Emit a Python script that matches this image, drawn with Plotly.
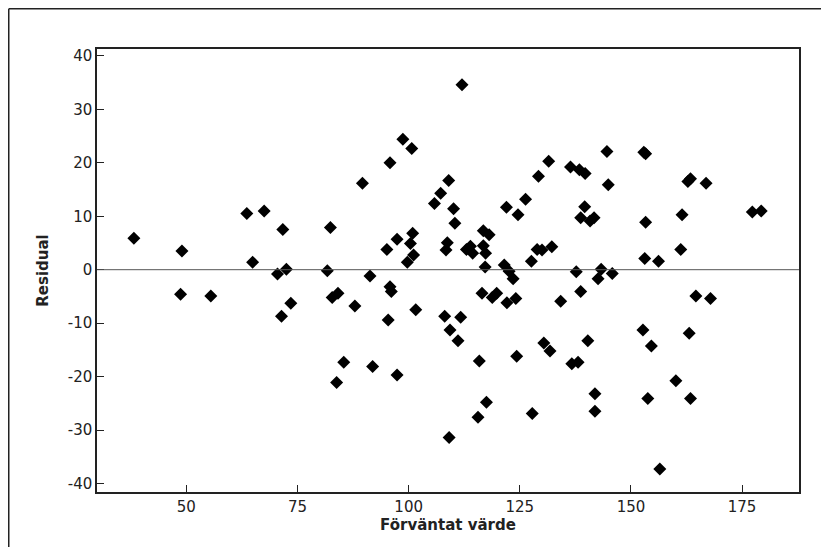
import plotly.graph_objects as go

# Fitted values (Förväntat värde) and residuals
fitted = [
    38.2, 49.0, 48.7, 55.5, 63.6, 67.5, 71.7, 82.4, 64.9, 70.5, 72.5, 81.7, 73.5, 71.4, 82.8,
    84.1, 87.9, 91.3, 95.8, 96.1, 95.4, 101.6, 108.1, 111.7, 109.3, 111.1, 116.5, 118.8, 119.8,
    122.1, 124.1, 134.2, 85.4, 83.8, 91.9, 97.4, 115.9, 124.3, 130.4, 131.8, 117.5, 115.6, 127.8,
    109.1, 112.0, 98.7, 100.7, 95.8, 89.6, 109.0, 107.2, 105.8, 110.1, 110.4, 131.5, 129.2, 126.3,
    122.0, 124.6, 100.9, 97.4, 100.4, 95.1, 101.1, 99.7, 108.7, 108.4, 116.8, 118.1, 113.0, 113.9,
    114.4, 116.8, 117.3, 117.2, 127.6, 128.9, 130.0, 132.2, 121.5, 122.6, 123.5, 144.6, 152.9,
    153.3, 136.4, 138.4, 139.7, 144.9, 162.8, 163.4, 166.9, 139.6, 138.7, 140.8, 141.7, 153.3,
    161.5, 177.3, 179.3, 161.2, 153.1, 156.2, 137.7, 143.3, 145.8, 142.6, 138.7, 164.6, 167.9,
    152.7, 163.1, 154.6, 140.3, 136.7, 138.1, 160.1, 141.9, 153.8, 163.4, 141.9, 156.5,
]
residual = [
    5.9, 3.5, -4.6, -4.9, 10.5, 11.0, 7.5, 7.9, 1.4, -0.8, 0.1, -0.2, -6.3, -8.7, -5.2,
    -4.4, -6.8, -1.2, -3.2, -4.1, -9.4, -7.5, -8.7, -8.9, -11.3, -13.3, -4.4, -5.2, -4.4,
    -6.2, -5.4, -5.9, -17.3, -21.1, -18.1, -19.7, -17.1, -16.2, -13.7, -15.2, -24.8, -27.6, -26.9,
    -31.4, 34.6, 24.4, 22.7, 20.0, 16.2, 16.7, 14.3, 12.4, 11.4, 8.7, 20.3, 17.5, 13.2,
    11.7, 10.3, 6.8, 5.7, 4.9, 3.8, 2.75, 1.4, 5.05, 3.7, 7.3, 6.55, 3.8, 4.4,
    3.1, 4.5, 3.1, 0.5, 1.6, 3.8, 3.7, 4.3, 0.9, -0.3, -1.7, 22.1, 22.0,
    21.7, 19.2, 18.7, 18.0, 15.9, 16.5, 17.0, 16.2, 11.8, 9.7, 9.1, 9.7, 8.9,
    10.3, 10.8, 11.0, 3.8, 2.1, 1.6, -0.4, 0.1, -0.7, -1.7, -4.1, -4.9, -5.4,
    -11.3, -11.9, -14.3, -13.3, -17.6, -17.3, -20.8, -23.2, -24.1, -24.1, -26.5, -37.3,
]
x_ticks = [50, 75, 100, 125, 150, 175]
y_ticks = [-40, -30, -20, -10, 0, 10, 20, 30, 40]

# figure sits at an 8px page offset inside the 829x555 window (no overflow)
W, H = 813, 539
ML, MR, MT, MB = 89, 22, 41, 55
PW, PH = W - ML - MR, H - MT - MB

fig = go.Figure()
fig.add_trace(go.Scatter(
    x=fitted, y=residual, mode="markers",
    marker=dict(symbol="diamond", size=10, color="black", line=dict(width=0)),
    showlegend=False, hoverinfo="x+y",
))

font_family = "DejaVu Sans, Verdana, sans-serif"
axis_common = dict(
    showgrid=False, zeroline=False, showline=True, linecolor="#222222", linewidth=1.5,
    mirror=True, ticks="inside", ticklen=7, tickwidth=1, tickcolor="#222222",
    tickfont=dict(family=font_family, size=15, color="#222222"),
)
fig.update_xaxes(
    range=[29.9, 187.8], tickvals=x_ticks, ticktext=[str(v) for v in x_ticks],
    title=dict(text="<b>Förväntat värde</b>", font=dict(family=font_family, size=15, color="#222222"), standoff=4),
    **axis_common,
)
fig.update_yaxes(
    range=[-41.6, 41.3], tickvals=y_ticks, ticktext=[str(v) for v in y_ticks],
    title=dict(text="<b>Residual</b>", font=dict(family=font_family, size=15, color="#222222"), standoff=16),
    **axis_common,
)

# reference line at residual 0
fig.add_hline(y=0, line=dict(color="#555555", width=1))

# outer frame: only the left and top edges are visible in the reference
def px_to_paper_x(px):
    return (px - ML) / PW

def px_to_paper_y(py):
    return (H - MB - py) / PH

frame_line = dict(color="#222222", width=1.5)
fig.add_shape(type="line", xref="paper", yref="paper",
              x0=px_to_paper_x(0.75), x1=px_to_paper_x(W),
              y0=px_to_paper_y(0.75), y1=px_to_paper_y(0.75), line=frame_line, layer="below")
fig.add_shape(type="line", xref="paper", yref="paper",
              x0=px_to_paper_x(0.75), x1=px_to_paper_x(0.75),
              y0=px_to_paper_y(0.75), y1=px_to_paper_y(H), line=frame_line, layer="below")

fig.update_layout(
    width=W, height=H,
    margin=dict(l=ML, r=MR, t=MT, b=MB, pad=0),
    paper_bgcolor="white", plot_bgcolor="white",
    font=dict(family=font_family, color="#222222"),
)
fig.write_html("out.html")
